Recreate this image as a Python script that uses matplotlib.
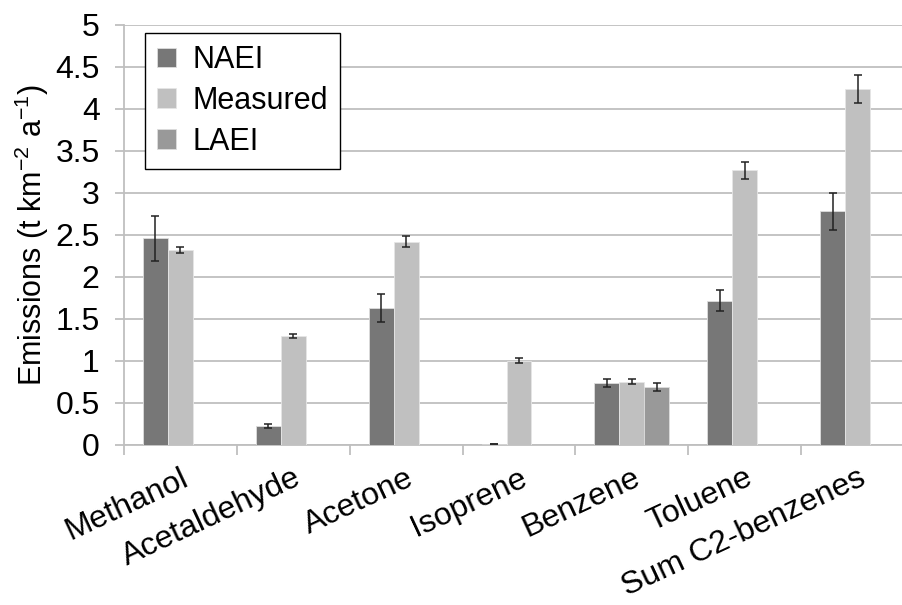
import numpy as np
import matplotlib.pyplot as plt

plt.rcParams['font.family'] = ['Liberation Sans', 'DejaVu Sans']
plt.rcParams['mathtext.fontset'] = 'custom'
plt.rcParams['mathtext.rm'] = 'Liberation Sans'

compounds = ['Methanol', 'Acetaldehyde', 'Acetone', 'Isoprene', 'Benzene',
             'Toluene', 'Sum C2-benzenes']

naei = [2.46, 0.226, 1.63, 0.01, 0.74, 1.72, 2.78]
naei_err = [0.27, 0.024, 0.17, 0.0, 0.045, 0.12, 0.22]
measured = [2.32, 1.30, 2.42, 1.00, 0.75, 3.27, 4.24]
measured_err = [0.04, 0.024, 0.065, 0.03, 0.03, 0.10, 0.167]
laei = [np.nan, np.nan, np.nan, np.nan, 0.69, np.nan, np.nan]
laei_err = [0, 0, 0, 0, 0.05, 0, 0]

grid_col = '#bfbfbf'
x = np.arange(len(compounds))
w = 0.221

fig = plt.figure(figsize=(9.03, 6.05), dpi=100)
ax = fig.add_axes([0.1373, 0.2645, 0.8749, 0.6942])

err_kw = dict(ecolor='#222222', elinewidth=1.1, capsize=3, capthick=1.1)
ax.bar(x - w, naei, w, yerr=naei_err, color='#777777', edgecolor='#dddddd',
       linewidth=0.6, label='NAEI', error_kw=err_kw, zorder=3)
ax.bar(x, measured, w, yerr=measured_err, color='#c0c0c0', edgecolor='#e6e6e6',
       linewidth=0.6, label='Measured', error_kw=err_kw, zorder=3)
ax.bar(x + w, laei, w, yerr=laei_err, color='#999999', edgecolor='#dddddd',
       linewidth=0.6, label='LAEI', error_kw=err_kw, zorder=3)

ax.set_xlim(-0.5, len(compounds) - 0.5)
ax.set_ylim(0, 5)
ax.set_yticks(np.arange(0, 5.01, 0.5))
ax.set_yticklabels(['0', '0.5', '1', '1.5', '2', '2.5', '3', '3.5', '4', '4.5', '5'])
ax.yaxis.grid(True, color=grid_col, linewidth=1.3, zorder=0)
ax.set_axisbelow(True)

ax.set_xticks(x)
ax.set_xticklabels(compounds, rotation=25, ha='right', va='top',
                   rotation_mode='anchor')
ax.set_xticks(np.arange(-0.5, len(compounds), 1), minor=True)
ax.tick_params(axis='x', which='major', length=0, labelsize=23, pad=13)
ax.tick_params(axis='x', which='minor', length=7, color=grid_col, width=1.3)
ax.tick_params(axis='y', length=6.5, color=grid_col, width=1.3, labelsize=23, pad=11)

for side in ['top', 'right']:
    ax.spines[side].set_visible(False)
for side in ['left', 'bottom']:
    ax.spines[side].set_color(grid_col)
    ax.spines[side].set_linewidth(1.3)

ax.set_ylabel(r'Emissions (t km$^{\mathregular{-2}}$ a$^{\mathregular{-1}}$)',
              fontsize=22, labelpad=3)

leg = ax.legend(loc='upper left', bbox_to_anchor=(0.1606, 0.9455),
                bbox_transform=fig.transFigure, borderaxespad=0, fontsize=22,
                fancybox=False, edgecolor='black', framealpha=1,
                handlelength=0.6, handleheight=0.6, handletextpad=0.55,
                labelspacing=0.35, borderpad=0.4)
leg.get_frame().set_linewidth(1.0)

fig.savefig('out.png', dpi=100)
